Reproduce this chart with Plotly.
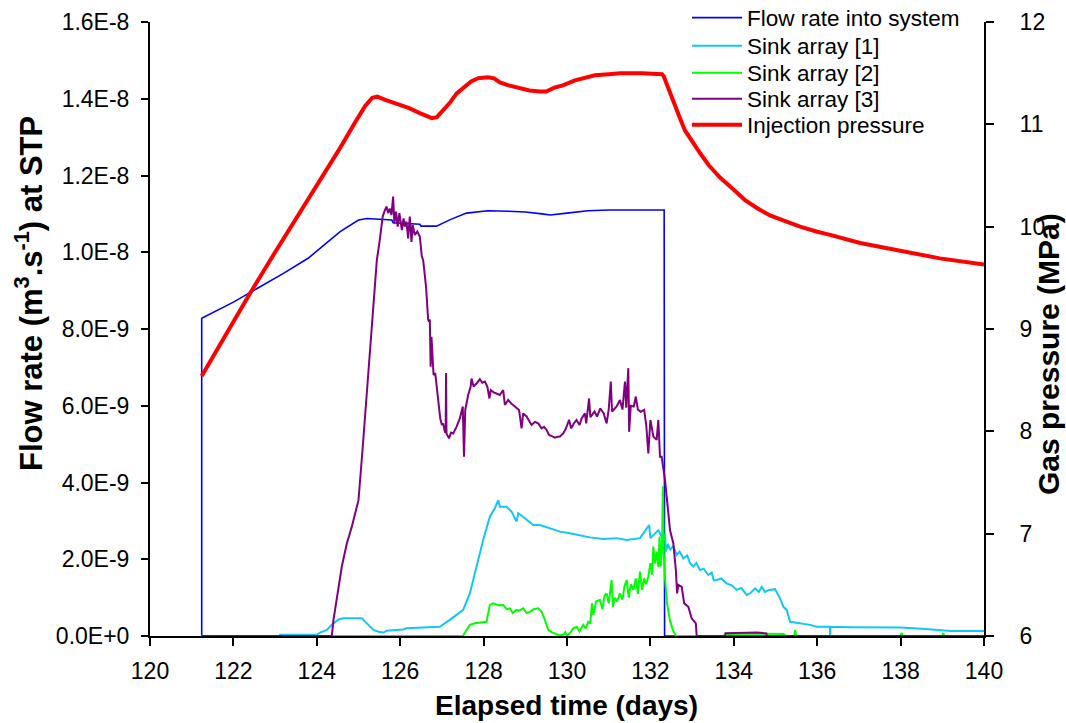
import plotly.graph_objects as go

# ---- flow rate into the system (m3/s at STP, in units of 1e-9) ----
t_flow = [121.24, 121.24, 122.0, 122.6, 123.2, 123.8, 124.3, 124.56, 125.0, 125.2,
          125.8, 125.83, 126.47, 126.5, 126.87, 127.2, 127.59, 127.83, 128.1, 128.6,
          129.0, 129.4, 129.6, 130.0, 130.5, 131.0, 131.5, 132.0, 132.33, 132.34, 140.0]
v_flow = [0.0, 8.28, 8.7, 9.07, 9.45, 9.85, 10.3, 10.54, 10.84, 10.88,
          10.84, 10.77, 10.73, 10.68, 10.68, 10.85, 11.02, 11.05, 11.08, 11.07,
          11.05, 11.0, 10.97, 11.02, 11.08, 11.1, 11.1, 11.1, 11.1, 0.0, 0.0]

# ---- sink array [1] ----
t_sink1 = [121.24, 123.1, 123.12, 124.0, 124.08, 124.24, 124.36, 124.52, 124.64, 125.08,
           125.2, 125.36, 125.48, 125.6, 125.68, 125.84, 126.07, 126.15, 126.5, 126.95,
           127.19, 127.51, 127.67, 127.83, 127.99, 128.15, 128.27, 128.35, 128.39, 128.55,
           128.67, 128.79, 128.83, 128.99, 129.19, 129.35, 129.59, 129.83, 130.07, 130.31,
           130.55, 130.87, 131.19, 131.43, 131.75, 131.97, 132.0, 132.19, 132.31, 132.35,
           132.37, 132.42, 132.47, 132.55, 132.63, 132.7, 132.79, 132.88, 132.95, 133.03,
           133.1, 133.19, 133.28, 133.39, 133.47, 133.52, 133.59, 133.7, 133.83, 133.95,
           134.07, 134.18, 134.31, 134.4, 134.51, 134.6, 134.67, 134.75, 134.85, 134.99,
           135.11, 135.19, 135.27, 135.35, 135.59, 135.83, 135.99, 136.3, 136.31, 136.32,
           136.8, 137.5, 138.0, 138.6, 139.2, 140.0]
v_sink1 = [0.0, 0.0, 0.03, 0.03, 0.09, 0.16, 0.29, 0.43, 0.46, 0.46,
           0.33, 0.16, 0.11, 0.09, 0.14, 0.16, 0.17, 0.2, 0.21, 0.24,
           0.42, 0.68, 1.11, 1.81, 2.5, 3.11, 3.33, 3.54, 3.37, 3.37,
           3.24, 2.98, 3.2, 3.07, 2.89, 2.89, 2.81, 2.72, 2.68, 2.63,
           2.57, 2.53, 2.55, 2.5, 2.55, 2.89, 2.55, 2.76, 2.5, 2.65,
           2.2, 2.4, 2.24, 2.35, 2.11, 2.2, 2.02, 2.1, 1.9, 1.81,
           1.9, 1.72, 1.75, 1.59, 1.65, 1.45, 1.46, 1.5, 1.37, 1.32,
           1.2, 1.25, 1.07, 1.12, 1.24, 1.15, 1.28, 1.15, 1.2, 1.22,
           0.98, 0.76, 0.68, 0.37, 0.33, 0.29, 0.24, 0.24, 0.02, 0.24,
           0.23, 0.22, 0.22, 0.18, 0.13, 0.13]

# ---- sink array [2] ----
t_sink2 = [121.24, 127.5, 127.67, 127.79, 128.07, 128.15, 128.23, 128.35, 128.47, 128.55,
           128.63, 128.7, 128.78, 128.85, 128.95, 129.03, 129.11, 129.2, 129.31, 129.39,
           129.47, 129.55, 129.63, 129.71, 129.8, 129.91, 129.96, 130.0, 130.07, 130.15,
           130.23, 130.3, 130.39, 130.45, 130.51, 130.56, 130.6, 130.63, 130.7, 130.79,
           130.85, 130.9, 130.95, 131.0, 131.07, 131.1, 131.15, 131.2, 131.27, 131.33,
           131.38, 131.43, 131.48, 131.53, 131.59, 131.65, 131.7, 131.75, 131.8, 131.85,
           131.9, 131.95, 132.0, 132.04, 132.07, 132.11, 132.15, 132.19, 132.22, 132.25,
           132.28, 132.3, 132.32, 132.35, 132.4, 132.47, 132.55, 132.62, 133.75, 133.8,
           134.5, 135.2, 135.25, 135.45, 135.47, 135.5, 138.0, 138.02, 138.05, 139.0,
           139.02, 139.05, 140.0]
v_sink2 = [0.0, 0.0, 0.29, 0.33, 0.37, 0.81, 0.85, 0.8, 0.81, 0.7,
           0.72, 0.6, 0.68, 0.66, 0.72, 0.6, 0.63, 0.7, 0.72, 0.63,
           0.42, 0.16, 0.1, 0.07, 0.02, 0.03, 0.1, 0.0, 0.07, 0.2,
           0.24, 0.12, 0.29, 0.2, 0.37, 0.35, 0.85, 0.55, 0.9, 0.94,
           0.7, 1.05, 1.11, 0.85, 1.46, 0.76, 1.0, 0.9, 1.11, 0.95,
           1.3, 1.46, 1.0, 1.35, 1.2, 1.5, 1.1, 1.68, 1.2, 1.5,
           1.35, 1.55, 1.9, 1.6, 2.33, 1.89, 2.2, 1.8, 2.59, 1.81,
           2.4, 3.9, 2.2, 1.5, 0.85, 0.4, 0.12, 0.0, 0.0, 0.05,
           0.06, 0.05, 0.0, 0.0, 0.15, 0.0, 0.0, 0.08, 0.0, 0.0,
           0.08, 0.0, 0.0]

# ---- sink array [3] ----
t_sink3 = [121.24, 124.36, 124.4, 124.48, 124.6, 124.72, 124.84, 124.96, 125.0, 125.1,
           125.2, 125.33, 125.36, 125.44, 125.5, 125.58, 125.62, 125.67, 125.71, 125.75,
           125.79, 125.83, 125.86, 125.9, 125.94, 125.98, 126.04, 126.08, 126.11, 126.15,
           126.19, 126.23, 126.27, 126.3, 126.35, 126.41, 126.47, 126.52, 126.55, 126.62,
           126.67, 126.69, 126.71, 126.73, 126.75, 126.8, 126.84, 126.88, 126.92, 126.96,
           127.0, 127.03, 127.07, 127.09, 127.1, 127.11, 127.17, 127.22, 127.27, 127.35,
           127.43, 127.5, 127.53, 127.56, 127.63, 127.69, 127.71, 127.76, 127.83, 127.91,
           127.97, 128.03, 128.09, 128.14, 128.17, 128.24, 128.31, 128.39, 128.47, 128.51,
           128.59, 128.67, 128.75, 128.85, 128.91, 128.95, 129.03, 129.09, 129.15, 129.23,
           129.31, 129.39, 129.45, 129.51, 129.57, 129.65, 129.71, 129.77, 129.83, 129.91,
           129.97, 130.05, 130.1, 130.17, 130.23, 130.3, 130.35, 130.43, 130.46, 130.53,
           130.56, 130.6, 130.66, 130.72, 130.8, 130.88, 130.95, 131.0, 131.05, 131.08,
           131.11, 131.19, 131.27, 131.33, 131.39, 131.42, 131.47, 131.49, 131.53, 131.6,
           131.65, 131.7, 131.77, 131.85, 131.9, 131.95, 132.0, 132.07, 132.15, 132.19,
           132.23, 132.27, 132.35, 132.39, 132.43, 132.47, 132.51, 132.55, 132.61, 132.64,
           132.67, 132.75, 132.81, 132.91, 132.99, 133.09, 133.11, 133.79, 133.8, 134.55,
           134.78, 134.79, 140.0]
v_sink3 = [0.0, 0.0, 0.42, 1.02, 1.81, 2.41, 2.85, 3.37, 3.54, 4.9,
           6.4, 8.24, 8.76, 9.8, 10.24, 10.93, 11.06, 11.19, 11.02, 11.14,
           10.97, 11.45, 10.75, 11.06, 10.67, 11.02, 10.58, 10.88, 10.67, 10.8,
           10.36, 10.93, 10.27, 10.71, 10.45, 10.54, 10.41, 9.88, 9.8, 9.1,
           8.24, 8.19, 8.25, 7.02, 7.8, 6.8, 6.85, 6.41, 5.98, 5.67,
           5.5, 5.54, 5.32, 5.3, 6.85, 5.28, 5.15, 5.3, 5.28, 5.45,
           5.67, 5.98, 4.67, 5.89, 6.28, 6.5, 6.71, 6.5, 6.58, 6.69,
           6.6, 6.63, 6.5, 6.19, 6.41, 6.35, 6.32, 6.28, 6.41, 6.02,
           6.15, 6.05, 5.98, 5.89, 5.41, 5.8, 5.72, 5.6, 5.5, 5.58,
           5.54, 5.41, 5.45, 5.37, 5.24, 5.2, 5.17, 5.19, 5.2, 5.28,
           5.4, 5.63, 5.41, 5.55, 5.63, 5.5, 5.67, 5.8, 5.54, 6.19,
           5.7, 5.76, 5.85, 5.72, 5.93, 5.8, 5.54, 5.9, 6.63, 5.85,
           5.89, 5.98, 6.15, 5.9, 6.63, 5.95, 6.98, 5.32, 6.0, 5.98,
           6.24, 5.9, 5.84, 5.89, 5.5, 4.76, 5.63, 5.2, 5.11, 5.63,
           4.67, 4.67, 4.07, 3.54, 3.2, 2.76, 2.59, 2.41, 1.72, 1.11,
           1.33, 1.28, 0.85, 0.76, 0.46, 0.33, 0.0, 0.0, 0.07, 0.09,
           0.07, 0.0, 0.0]

# ---- injection pressure (MPa) ----
t_pres = [121.24, 121.8, 122.4, 123.0, 123.6, 124.08, 124.56, 124.92, 125.16, 125.33,
          125.45, 125.64, 125.8, 126.0, 126.2, 126.47, 126.76, 126.88, 126.95, 127.19,
          127.35, 127.55, 127.7, 127.87, 128.1, 128.25, 128.39, 128.6, 128.87, 129.1,
          129.35, 129.5, 129.71, 129.9, 130.19, 130.4, 130.67, 131.0, 131.27, 131.8,
          132.28, 132.32, 132.4, 132.48, 132.59, 132.7, 132.83, 133.0, 133.19, 133.4,
          133.67, 134.0, 134.27, 134.6, 134.87, 135.2, 135.59, 136.0, 136.31, 137.03,
          137.98, 138.94, 140.0]
p_pres = [8.54, 8.94, 9.35, 9.75, 10.14, 10.46, 10.77, 11.02, 11.18, 11.26,
          11.27, 11.24, 11.22, 11.19, 11.16, 11.11, 11.06, 11.07, 11.1, 11.21,
          11.3, 11.37, 11.42, 11.45, 11.46, 11.45, 11.41, 11.38, 11.35, 11.33,
          11.32, 11.32, 11.36, 11.38, 11.43, 11.45, 11.48, 11.49, 11.5, 11.5,
          11.49, 11.47, 11.38, 11.3, 11.19, 11.07, 10.94, 10.83, 10.72, 10.6,
          10.48, 10.36, 10.26, 10.17, 10.11, 10.06, 10.0, 9.95, 9.92, 9.84,
          9.77, 9.69, 9.63]

# left-axis ticks and their labels
flow_ticks = [0.0, 2.0e-9, 4.0e-9, 6.0e-9, 8.0e-9, 1.0e-8, 1.2e-8, 1.4e-8, 1.6e-8]
flow_tick_text = ["0.0E+0", "2.0E-9", "4.0E-9", "6.0E-9", "8.0E-9",
                  "1.0E-8", "1.2E-8", "1.4E-8", "1.6E-8"]

SCALE = 1e-9
FONT = "Liberation Sans, Arial, sans-serif"

# plot-area geometry in pixels (used to place legend rows and axis titles)
W, H = 1066, 723
L, R, T, B = 150, 82, 22, 87
PW, PH = W - L - R, H - T - B


def px_x(px):
    return (px - L) / PW


def px_y(py):
    return (H - B - py) / PH


def scaled(vals):
    return [v * SCALE for v in vals]


series = [
    ("Flow rate into system", t_flow, scaled(v_flow), "#0000FF", 1.6, "y"),
    ("Sink array [1]", t_sink1, scaled(v_sink1), "#12C6F5", 2.0, "y"),
    ("Sink array [2]", t_sink2, scaled(v_sink2), "#00FF00", 2.0, "y"),
    ("Sink array [3]", t_sink3, scaled(v_sink3), "#800080", 2.0, "y"),
    ("Injection pressure", t_pres, p_pres, "#FF0000", 4.0, "y2"),
]

# one legend box per entry so the row spacing can be set exactly
legend_rows_px = [18, 46, 73, 99, 125]

fig = go.Figure()
legend_layout = {}
for i, (name, xs, ys, color, width, yax) in enumerate(series):
    key = "legend" if i == 0 else f"legend{i + 1}"
    fig.add_trace(go.Scatter(x=xs, y=ys, mode="lines", name=name, yaxis=yax,
                             legend=key, line=dict(color=color, width=width)))
    legend_layout[key] = dict(
        x=px_x(687), y=px_y(legend_rows_px[i]), xanchor="left", yanchor="middle",
        bgcolor="rgba(0,0,0,0)", borderwidth=0, itemwidth=50,
        font=dict(family=FONT, size=22.5, color="black"))

axis_common = dict(showline=True, linecolor="black", linewidth=2,
                   ticks="outside", tickcolor="black", tickwidth=2,
                   showgrid=False, zeroline=False,
                   tickfont=dict(family=FONT, size=23, color="black"))


def title_font(size):
    return dict(family=FONT, size=size, color="black", weight="bold")


fig.update_layout(
    width=W, height=H,
    margin=dict(l=L, r=R, t=T, b=B, autoexpand=False),
    paper_bgcolor="white", plot_bgcolor="white",
    showlegend=True,
    xaxis=dict(range=[120, 140], dtick=2, tick0=120, ticklen=8,
               ticklabelstandoff=5, layer="below traces", **axis_common),
    yaxis=dict(range=[0, 1.6e-8], tickvals=flow_ticks, ticktext=flow_tick_text,
               ticklen=7, ticklabelstandoff=7, layer="below traces", **axis_common),
    yaxis2=dict(range=[6, 12], dtick=1, overlaying="y", side="right", anchor="x",
                ticklen=8, ticklabelstandoff=21, **axis_common),
    annotations=[
        dict(text="Elapsed time (days)", xref="paper", yref="paper",
             x=px_x(566), y=px_y(705), xanchor="center", yanchor="middle",
             showarrow=False, font=title_font(28)),
        dict(text="Flow rate (m<sup>3</sup>.s<sup>-1</sup>) at STP",
             xref="paper", yref="paper", x=px_x(29), y=px_y(294),
             xanchor="center", yanchor="middle", textangle=-90,
             showarrow=False, font=title_font(31)),
        dict(text="Gas pressure (MPa)", xref="paper", yref="paper",
             x=px_x(1048), y=px_y(354), xanchor="center", yanchor="middle",
             textangle=-90, showarrow=False, font=title_font(30)),
    ],
    **legend_layout,
)

fig.write_html("out.html")
